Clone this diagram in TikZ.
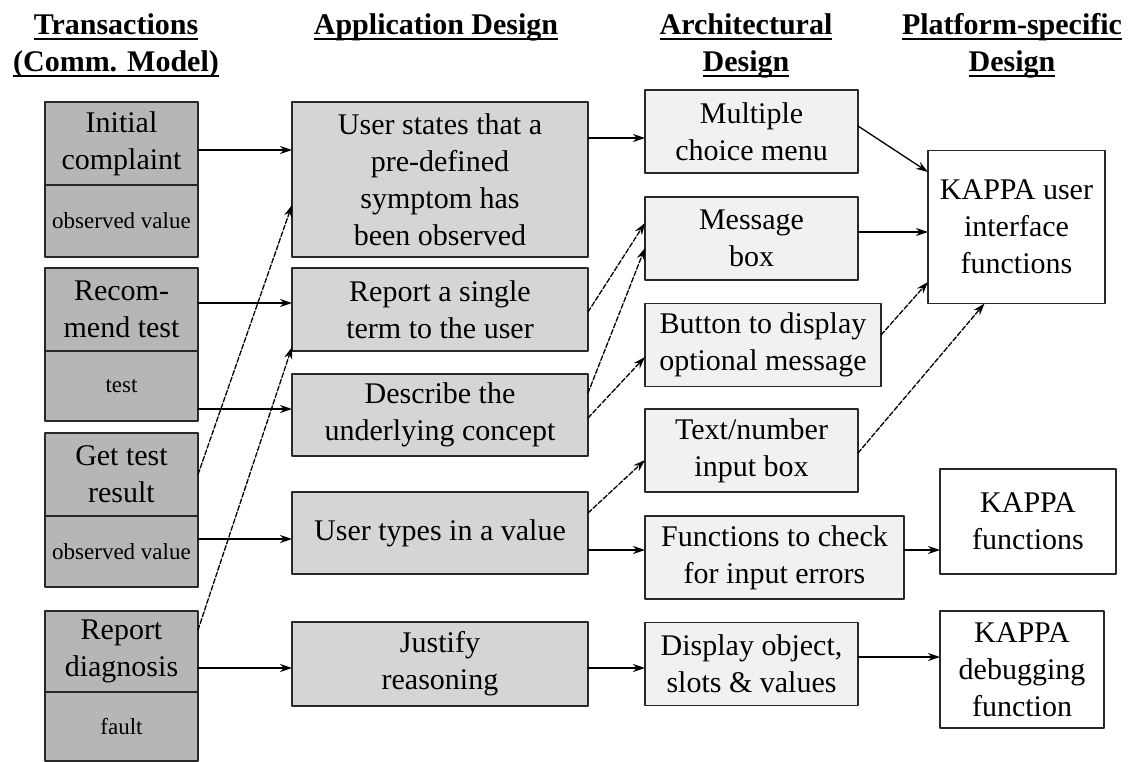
\documentclass[tikz,border=0pt]{standalone}
\usepackage{fontspec}
\setmainfont{Liberation Serif}
\usetikzlibrary{arrows.meta,calc,positioning}
\definecolor{txgray}{RGB}{182,182,182}
\definecolor{appgray}{RGB}{213,213,213}
\definecolor{archgray}{RGB}{241,241,241}
\definecolor{boxline}{RGB}{40,40,40}
\newcommand{\hdrline}[1]{{\setbox0=\hbox{#1}\dp0=0pt\vtop{\copy0\kern3.5pt\hrule height 2.5pt}}}
\tikzset{
  every node/.style={font=\fontsize{30}{37}\selectfont},
  box/.style={draw=boxline, line width=1.5pt, inner sep=0pt, outer sep=0pt, align=center},
  tx box/.style={box, fill=txgray, minimum width=153pt},
  val box/.style={tx box, font=\fontsize{23}{27}\selectfont},
  app box/.style={box, fill=appgray, minimum width=296pt},
  arch box/.style={box, fill=archgray, minimum height=83pt},
  plat box/.style={box, fill=white},
  head/.style={align=center, inner sep=0pt, anchor=north, font=\bfseries\fontsize{30}{37}\selectfont},
  conn/.style={line width=1.3pt, -{Stealth[length=12pt,width=8pt]}},
  dash conn/.style={conn, dash pattern=on 5pt off 2pt}
}

\begin{document}
\begin{tikzpicture}[x=1pt,y=-1pt,line cap=round,line join=round]
  \useasboundingbox (0,0) rectangle (1140,762);

  % column headings
  \node[head] (h1) at (116,13) {\hdrline{Transactions}\\\hdrline{(Comm. Model)}};
  \node[head] (h2) at (436,13) {\hdrline{Application Design}};
  \node[head] (h3) at (746,13) {\hdrline{Architectural}\\\hdrline{Design}};
  \node[head] (h4) at (1012,13) {\hdrline{Platform-specific}\\\hdrline{Design}};

  % transactions
  \node[tx box, minimum height=83pt] (ic) at (121.5,143.5) {Initial\\complaint};
  \node[val box, minimum height=72pt, below=0pt of ic] (icv) {observed value};
  \node[tx box, minimum height=83pt] (rt) at (121.5,309.5) {Recom-\\mend test};
  \node[val box, minimum height=70pt, below=0pt of rt] (rtv) {test};
  \node[tx box, minimum height=83pt] (gt) at (121.5,474.5) {Get test\\result};
  \node[val box, minimum height=71pt, below=0pt of gt] (gtv) {observed value};
  \node[tx box, minimum height=81pt] (rd) at (121.5,651.5) {Report\\diagnosis};
  \node[val box, minimum height=69pt, below=0pt of rd] (rdv) {fault};

  % application design
  \node[app box, minimum height=155pt] (us) at (440,179.5) {User states that a\\pre-defined\\symptom has\\been observed};
  \node[app box, minimum height=83pt] (rs) at (440,309.5) {Report a single\\term to the user};
  \node[app box, minimum height=82pt] (dc) at (440,415) {Describe the\\underlying concept};
  \node[app box, minimum height=82pt] (ut) at (440,533) {User types in a value};
  \node[app box, minimum height=84pt] (jr) at (440,664) {Justify\\reasoning};

  % architectural design
  \node[arch box, minimum width=213pt] (mc) at (751.5,131.5) {Multiple\\choice menu};
  \node[arch box, minimum width=213pt] (mb) at (751.5,238.5) {Message\\box};
  \node[arch box, minimum width=236pt] (bt) at (763,345) {Button to display\\optional message};
  \node[arch box, minimum width=213pt] (tn) at (751.5,450.5) {Text/number\\input box};
  \node[arch box, minimum width=259pt] (fc) at (774.5,557.5) {Functions to check\\for input errors};
  \node[arch box, minimum width=213pt] (dob) at (751.5,664) {Display object,\\slots \& values};

  % platform-specific design
  \node[plat box, minimum width=177pt, minimum height=153pt] (ku) at (1016.5,227) {KAPPA user\\interface\\functions};
  \node[plat box, minimum width=176pt, minimum height=105pt] (kf) at (1028,521.5) {KAPPA\\functions};
  \node[plat box, minimum width=164pt, minimum height=117pt] (kd) at (1022,669.5) {KAPPA\\debugging\\function};

  % transactions -> application design
  \draw[conn] ($(ic.east)+(0,6.5)$) -- ($(us.west)+(0,-29.5)$);
  \draw[dash conn] (gt.east) -- ($(us.west)+(0,25.5)$);
  \draw[conn] ($(rt.east)+(0,-6.5)$) -- ($(rs.west)+(0,-6.5)$);
  \draw[dash conn] ($(rd.east)+(0,-21.5)$) -- ($(rs.west)+(0,37.5)$);
  \draw[conn] ($(rtv.east)+(0,23)$) -- ($(dc.west)+(0,-6)$);
  \draw[conn] ($(gtv.east)+(0,-12.5)$) -- ($(ut.west)+(0,6)$);
  \draw[conn] ($(rd.east)+(0,16.5)$) -- ($(jr.west)+(0,4)$);

  % application -> architectural design
  \draw[conn] ($(us.east)+(0,-41.5)$) -- ($(mc.west)+(0,6.5)$);
  \draw[dash conn] ($(rs.east)+(0,2.5)$) -- ($(mb.west)+(0,-15.5)$);
  \draw[dash conn] ($(dc.east)+(0,-22)$) -- ($(mb.west)+(0,9.5)$);
  \draw[dash conn] ($(dc.east)+(0,3)$) -- ($(bt.west)+(0,12)$);
  \draw[dash conn] ($(ut.east)+(0,-20)$) -- ($(tn.west)+(0,9.5)$);
  \draw[conn] ($(ut.east)+(0,17)$) -- ($(fc.west)+(0,-7.5)$);
  \draw[conn] ($(jr.east)+(0,4)$) -- ($(dob.west)+(0,4)$);

  % architectural -> platform-specific design
  \draw[conn] ($(mc.east)+(0,-5.5)$) -- ($(ku.west)+(0,-55)$);
  \draw[conn] ($(mb.east)+(0,-6.5)$) -- ($(ku.west)+(0,5)$);
  \draw[dash conn] ($(bt.east)+(0,-10)$) -- ($(ku.west)+(0,55)$);
  \draw[dash conn] ($(tn.east)+(0,2.5)$) -- ($(ku.south)+(-32,0)$);
  \draw[conn] ($(fc.east)+(0,-7.5)$) -- ($(kf.west)+(0,28.5)$);
  \draw[conn] ($(dob.east)+(0,-7)$) -- ($(kd.west)+(0,-12.5)$);
\end{tikzpicture}
\end{document}
